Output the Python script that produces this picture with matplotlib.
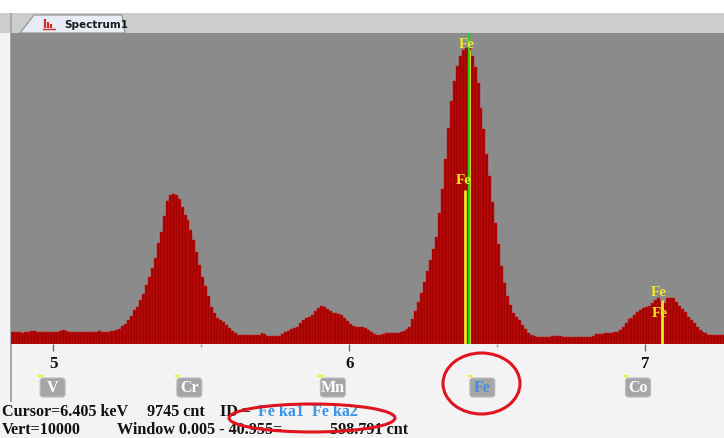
import matplotlib.pyplot as plt
import numpy as np
from matplotlib.patches import Rectangle, Ellipse, FancyBboxPatch, Polygon

W, H = 724, 438

# spectrum: 10 eV channels, first channel centre 4.855 keV
start_kev = 4.855
chan_kev = 0.01
counts = [
    380, 370, 390, 370, 360, 380, 400, 420, 410, 390,
    380, 370, 390, 400, 370, 370, 390, 420, 440, 420,
    390, 380, 370, 370, 380, 390, 380, 380, 390, 400,
    410, 400, 390, 400, 420, 430, 450, 480, 580, 650,
    780, 900, 1090, 1200, 1420, 1620, 1900, 2150, 2450, 2750,
    3250, 3600, 4100, 4600, 4780, 4820, 4780, 4650, 4400, 4150,
    3990, 3650, 3350, 2950, 2550, 2150, 1850, 1550, 1200, 1000,
    840, 760, 710, 600, 520, 430, 350, 300, 290, 280,
    290, 290, 280, 290, 300, 340, 330, 270, 260, 260,
    260, 270, 320, 380, 430, 470, 510, 550, 680, 760,
    830, 880, 930, 1060, 1150, 1210, 1200, 1130, 1050, 1000,
    1000, 980, 930, 850, 750, 640, 580, 550, 550, 540,
    500, 460, 370, 320, 290, 300, 320, 350, 340, 350,
    350, 360, 390, 420, 470, 550, 800, 1050, 1350, 1650,
    2000, 2350, 2700, 3050, 3450, 4200, 5000, 5950, 6950, 7800,
    8450, 8950, 9250, 9450, 9520, 9550, 9250, 8900, 8390, 7600,
    6900, 6100, 5400, 4550, 3900, 3200, 2500, 1950, 1550, 1250,
    1000, 860, 760, 620, 470, 360, 280, 250, 230, 220,
    220, 210, 220, 250, 260, 260, 250, 230, 220, 220,
    230, 220, 220, 230, 220, 230, 240, 270, 310, 320,
    320, 340, 350, 350, 370, 390, 460, 550, 680, 790,
    850, 930, 1030, 1100, 1160, 1180, 1220, 1310, 1400, 1480,
    1380, 1330, 1470, 1490, 1470, 1340, 1210, 1110, 1030, 880,
    780, 680, 560, 460, 390, 340, 300, 290, 290, 290,
    280, 290,
]
energy = start_kev + chan_kev * np.arange(len(counts))

vert = 10000
xmin, xmax = 4.857, 7.266

# element markers under the axis
elem_names = ['V', 'Cr', 'Mn', 'Fe', 'Co']
elem_kev = [4.952, 5.414, 5.899, 6.404, 6.930]

# line markers (yellow) and their labels
line_kev = [6.404, 6.391, 7.058]
line_top = [9450, 4950, 1420]
label_kev = [6.398, 6.387, 7.046, 7.049]
label_cnt = [9620, 5270, 1650, 990]
cursor_kev = 6.405

serif = 'Liberation Serif'

fig = plt.figure(figsize=(W / 100, H / 100), dpi=100, facecolor='#f3f3f3')

# pixel overlay for window chrome and text
ov = fig.add_axes([0, 0, 1, 1], zorder=0)
ov.set_xlim(0, W)
ov.set_ylim(H, 0)
ov.axis('off')
ov.add_patch(Rectangle((0, 0), W, 13, fc='white', ec='none'))
ov.add_patch(Rectangle((0, 13), W, 20, fc='#cdcdcd', ec='none'))
ov.add_patch(Rectangle((9.5, 13), 2, 389, fc='#a4a8b0', ec='none'))
ov.add_patch(Polygon([(20, 33), (34, 15), (122, 15), (125, 33)],
                     closed=True, fc='#e8edf5', ec='#8c8c8c', lw=0.8))
for bx, bh in [(44.5, 9), (47.5, 6), (50.5, 4)]:
    ov.plot([bx, bx], [28, 28 - bh], color='#d42a2a', lw=1.6, solid_capstyle='butt')
ov.plot([43, 55], [28.5, 28.5], color='#d42a2a', lw=1)
ov.text(64, 24.5, 'Spectrum1', fontsize=7.5, fontweight='bold', color='#1a1a1a',
        va='center', ha='left', family='DejaVu Sans')

# spectrum axes
ax = fig.add_axes([11 / W, 1 - 344 / H, 713 / W, 311 / H], zorder=1)
ax.set_facecolor('#8b8b8b')
ax.bar(energy, counts, width=chan_kev, align='center', color='#a30000',
       edgecolor='#cc1a1a', linewidth=0.35)
for k, top in zip(line_kev, line_top):
    ax.vlines(k, 0, top, color='#f0e628', lw=2.0)
ax.vlines(cursor_kev, 0, vert, color='#22d422', lw=1.6)
for k, c in zip(label_kev, label_cnt):
    ax.text(k, c, 'Fe', color='#f0e628', fontsize=11, fontweight='bold',
            family=serif, ha='center', va='center')
ax.set_xlim(xmin, xmax)
ax.set_ylim(0, vert)
for s in ax.spines.values():
    s.set_visible(False)
ax.set_xticks([5, 6, 7])
ax.set_xticks([5.5, 6.5], minor=True)
ax.tick_params(axis='x', which='major', direction='out', length=5, width=1,
               colors='#6a6a6a', labelbottom=False)
ax.tick_params(axis='x', which='minor', direction='out', length=2, width=1,
               colors='#9a9a9a')
ax.tick_params(axis='y', left=False, labelleft=False)

fig.canvas.draw()


def px(e):
    return ax.transData.transform((e, 0))[0]


for t in [5, 6, 7]:
    ov.text(px(t), 368, str(t), fontsize=12.2, fontweight='bold', family=serif,
            ha='center', va='baseline', color='#111111')

for name, e in zip(elem_names, elem_kev):
    x0 = px(e)
    ov.add_patch(FancyBboxPatch((x0 + 1, 378), 25, 19,
                                boxstyle='round,pad=0,rounding_size=3',
                                fc='#a6a6a6', ec='#bcbcbc', lw=0.8))
    ov.plot([x0, x0 + 2.5], [376, 376], color='#f0f020', lw=1.5)
    ov.text(x0 + 13.5, 388, name, fontsize=11.5, fontweight='bold', family=serif,
            color='#3a8ee6' if name == 'Fe' else 'white', ha='center', va='center')

# status text
txt = dict(fontsize=11.6, fontweight='bold', family=serif, va='baseline', ha='left')
ov.text(2, 416, 'Cursor=6.405 keV', color='#111111', **txt)
ov.text(147, 416, '9745 cnt', color='#111111', **txt)
ov.text(220, 416, 'ID =', color='#111111', **txt)
ov.text(258, 416, 'Fe ka1', color='#3a94e8', **txt)
ov.text(312, 416, 'Fe ka2', color='#3a94e8', **txt)
txt2 = dict(txt, va='bottom')
ov.text(2, 438, 'Vert=10000', color='#111111', **txt2)
ov.text(117, 438, 'Window 0.005 - 40.955=', color='#111111', **txt2)
ov.text(330, 438, '598.791 cnt', color='#111111', **txt2)

# red highlight ellipses
ov.add_patch(Ellipse((481.5, 383.5), 77, 61, fill=False, ec='#e0141e', lw=2.2, zorder=5))
ov.add_patch(Ellipse((312, 418), 166, 28, fill=False, ec='#e0141e', lw=2.2, zorder=5))

fig.savefig('out.png', dpi=100, facecolor=fig.get_facecolor())
